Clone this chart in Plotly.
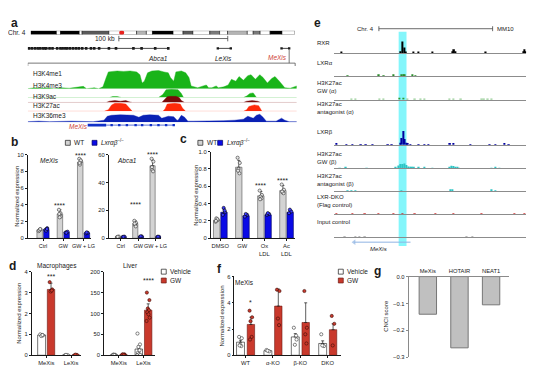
import plotly.graph_objects as go

W, H = 554, 375
# the page body keeps the browser's default 8 px margin, so the figure is offset by it
OX, OY = 8, 8
FW, FH = W - OX, H - OY
FONT = "Liberation Sans"
INK = "#1a1a1a"

# ======================= DATA =======================
# ---- panel a : chromosome 4 ideogram (Mb) ----
ideo_start = [0, 15.2, 17.6, 28.7, 30.4, 46.2, 62.6, 68.4, 72.0, 84.2, 90.1, 95.9,
              105.9, 111.7, 116.4, 128.1, 131.6, 135.7, 141.6, 148.6]
ideo_end = [15.2, 17.6, 28.7, 30.4, 46.2, 62.6, 68.4, 72.0, 84.2, 90.1, 95.9, 105.9,
            111.7, 116.4, 128.1, 131.6, 135.7, 141.6, 148.6, 156.2]
ideo_stain = ["gpos100", "gneg", "gpos100", "gneg", "gpos75", "gneg", "gpos33", "gneg",
              "gpos100", "gneg", "gpos75", "gneg", "gpos66", "gneg", "gpos33", "gneg",
              "gpos66", "gneg", "gpos100", "gneg"]
ideo_locus_mb = 53.8

# ---- panel a : genes (kb from window start) ----
scale_kb = [83.6, 183.6]
abca1_span = [0, 129]
abca1_exons = [1, 3.6, 6.4, 9, 11, 13.6, 15.5, 17, 20, 22.7, 27, 30, 32, 34.5, 36.4, 39,
               41.8, 44.5, 47, 50, 53.6, 58, 61, 65.5, 74.5, 81, 97, 104.5, 117, 129]
lexis_span = [174.5, 186.4]
mexis_span = [233, 240]
window_kb = 245.5
mexis_tx_thick = [55, 72]
mexis_tx_thin = [72, 135]
mexis_tx_exons = [77, 84, 91, 99, 105, 113, 120, 127, 134]

# ---- panel a : ChIP-seq tracks ----
k4me1_kb = [0, 6, 11, 18, 24, 31, 38, 45, 51, 54, 61, 65, 69, 72, 74, 82, 88, 94, 100, 103,
            105, 107, 110, 114, 120, 125, 129, 131, 134, 136, 141, 145, 148, 150, 153, 156,
            161, 164, 166, 169, 173, 175, 180, 184, 187, 191, 194, 198, 202, 205, 209, 213,
            216, 220, 224, 227, 231, 234, 236, 241, 244, 247]
k4me1_sig = [0, 1, 0.5, 1, 0, 1, 0.5, 1.5, 2.5, 0, 1, 0, 2, 12, 18, 19, 18.5, 19, 18, 15,
             6, 8, 17, 19, 19.5, 18, 17, 12, 8, 18, 19, 17, 12, 3, 2, 1, 3, 4, 1, 1,
             3, 1, 2, 4, 10, 8, 13, 9, 14, 15, 10, 15, 12, 6, 11, 13, 8, 4, 1, 0.5, 2, 3]
k4me3_kb = [0, 60, 75, 78, 82, 86, 120, 124, 127, 132, 138, 141, 143, 198, 201, 204, 207,
            210, 226, 228, 230, 247]
k4me3_sig = [0, 0, 0, 2, 2, 0, 0, 6, 15, 16, 15, 8, 0, 0, 3, 8, 9, 0, 0, 1, 0, 0]
k9ac_kb = [0, 72, 75, 80, 85, 90, 93, 96, 123, 125, 128, 131, 136, 139, 141, 144, 198, 201,
           206, 211, 214, 247]
k9ac_sig = [0, 0, 2, 3, 2, 3, 1, 0, 0, 3, 9, 10, 10, 8, 3, 0, 0, 2, 3, 2, 0, 0]
k27ac_kb = [0, 70, 74, 77, 80, 85, 90, 93, 96, 124, 126, 128, 135, 140, 142, 145, 198, 201,
            203, 208, 212, 215, 247]
k27ac_sig = [0, 0, 2, 8, 10, 10, 9, 4, 0, 0, 3, 9, 10, 9, 4, 0, 0, 2, 6, 8, 7, 0, 0]
k36me3_kb = [0, 10, 20, 40, 60, 70, 73, 77, 85, 92, 97, 102, 106, 112, 120, 123, 126, 129,
             134, 137, 138, 141, 144, 147, 152, 165, 180, 190, 198, 202, 204, 207, 210, 213,
             216, 219, 228, 231, 233, 236, 240, 247]
k36me3_sig = [0.5, 1, 0.5, 1, 0.5, 2, 6, 7, 7.5, 7, 7, 5, 7, 7.5, 7, 4, 5, 6, 5.5, 2,
              2, 7, 5, 1, 1, 1, 1.5, 2, 3, 6, 5, 4, 7, 8, 5, 1, 1, 3, 4, 2, 0.5, 0.5]
a_track_names = ["H3K4me1", "H3K4me3", "H3K9ac", "H3K27ac", "H3K36me3"]

# ---- panel b ----
b_groups = ["Ctrl", "GW", "GW + LG"]
b_mexis_wt = [1.0, 2.9, 9.1]
b_mexis_wt_err = [0.12, 0.5, 0.35]
b_mexis_ko = [1.05, 0.72, 0.62]
b_mexis_ko_err = [0.15, 0.08, 0.08]
b_mexis_wt_pts = [[0.85, 1.05, 0.95, 1.1], [3.4, 2.6, 2.5, 3.0, 2.9], [9.5, 9.2, 8.8, 9.3, 9.0]]
b_mexis_ko_pts = [[1.0, 1.2, 0.9, 1.1], [0.7, 0.78, 0.65], [0.58, 0.65, 0.7]]
b_abca1_wt = [1.0, 10.5, 52.0]
b_abca1_wt_err = [0.3, 2.0, 4.0]
b_abca1_ko = [1.0, 1.2, 1.0]
b_abca1_ko_err = [0.2, 0.3, 0.2]
b_abca1_wt_pts = [[0.8, 1.2, 1.0], [12.5, 11, 9.5, 8.5, 10.5], [57, 55, 49, 48, 51]]
b_abca1_ko_pts = [[0.9, 1.1, 1.0], [1.0, 1.3, 1.4], [0.9, 1.0, 1.1]]

# ---- panel c ----
c_groups = ["DMSO", "GW", "Ox<br>LDL", "Ac<br>LDL"]
c_wt = [0.21, 0.82, 0.49, 0.55]
c_wt_err = [0.02, 0.08, 0.05, 0.06]
c_ko = [0.30, 0.26, 0.27, 0.30]
c_ko_err = [0.04, 0.02, 0.01, 0.02]
c_wt_pts = [[0.19, 0.21, 0.23, 0.22, 0.20], [0.93, 0.87, 0.80, 0.75, 0.78],
            [0.55, 0.50, 0.48, 0.46, 0.45], [0.62, 0.56, 0.53, 0.52, 0.54]]
c_ko_pts = [[0.27, 0.30, 0.35, 0.32], [0.25, 0.27, 0.28], [0.27, 0.28, 0.29], [0.29, 0.31, 0.33]]

# ---- panel d ----
d_groups = ["MeXis", "LeXis"]
d_mac_veh = [0.97, 0.01]
d_mac_veh_err = [0.05, 0.005]
d_mac_gw = [3.15, 0.02]
d_mac_gw_err = [0.3, 0.005]
d_mac_veh_pts = [[1.0, 0.95, 0.92, 0.97], [0.0, 0.01, 0.02]]
d_mac_gw_pts = [[3.5, 3.15, 3.05, 3.1], [0.0, 0.02, 0.03]]
d_liv_veh = [1.0, 15.0]
d_liv_veh_err = [0.5, 7.0]
d_liv_gw = [1.5, 108.0]
d_liv_gw_err = [0.6, 15.0]
d_liv_veh_pts = [[0.5, 1.0, 1.5, 0.8, 1.2, 0.6], [52, 26, 20, 12, 6, 3, 1, 0]]
d_liv_gw_pts = [[1.0, 2.0, 1.5, 1.2, 2.2, 0.8], [150, 132, 112, 108, 103, 98, 90, 82]]

# ---- panel e : ChIP-seq signal (position units along window, signal) ----
e_names = ["RXR", "LXRα", "H3K27ac<br>GW (α)", "H3K27ac<br>antagonist (α)", "LXRβ",
           "H3K27ac<br>GW (β)", "H3K27ac<br>antagonist (β)", "LXR-DKO<br>(Flag control)",
           "Input control"]
e_pos = [
    [3.6, 34.5, 35.5, 36.5, 37.3, 41.2, 43.8, 51, 61.8, 62.4, 63.0, 78.9, 98.4, 99.0, 99.6],
    [7, 23.2, 25.8, 30.9, 35.1, 35.9, 36.7, 40.7, 42.3],
    [9, 11, 23.5, 25.5, 34, 36, 38, 42, 45, 47, 60, 62, 66, 76.5, 78, 80, 82],
    [],
    [1, 6.2, 9.3, 13.9, 16.5, 20, 28, 30, 34.3, 35.1, 35.9, 36.7, 37.5, 38.3, 39.5, 44, 47,
     49, 60.3, 62, 71, 81, 84, 88.7, 91],
    [3, 6, 17, 32, 33.5, 34.5, 35.5, 36.5, 37.5, 38.5, 39.5, 40.5, 41.5, 44, 47, 51, 60, 61,
     62, 63, 64, 65, 82, 84, 86],
    [7, 9, 11, 35, 60.5, 61.5, 82, 84],
    [1, 9.3, 16, 23, 30.9, 35.6, 42, 52.6, 62, 76.8, 93.8, 99],
    [5.5, 11, 13, 16, 69, 72],
]
e_sig = [
    [0.8, 2, 12, 6, 1.5, 0.8, 0.8, 0.8, 2, 4, 2, 0.8, 2, 4, 2],
    [0.5, 0.8, 0.6, 0.8, 1.2, 1.8, 0.8, 0.8, 0.6],
    [0.6, 0.6, 0.6, 0.6, 0.8, 0.8, 0.6, 0.6, 0.6, 0.6, 0.6, 0.6, 0.6, 0.6, 0.6, 0.6, 0.6],
    [],
    [0.8, 0.6, 0.6, 0.6, 0.6, 0.6, 0.6, 0.6, 2, 7, 14, 6, 2, 0.8, 0.6, 0.6, 0.6,
     0.6, 0.8, 0.8, 0.6, 0.6, 0.6, 0.8, 0.6],
    [0.6, 0.8, 0.6, 1, 3, 4.5, 4.5, 5, 3.5, 2, 1.5, 1, 0.8, 0.8, 0.8, 0.6, 1.5, 2.8,
     2.5, 1.5, 1, 0.7, 0.6, 0.8, 0.6],
    [0.6, 0.6, 0.6, 0.6, 1.2, 1.2, 0.8, 0.6],
    [0.6, 0.6, 0.6, 0.5, 0.6, 0.6, 0.6, 0.6, 0.6, 0.6, 0.6, 0.5],
    [0.6, 0.6, 0.6, 0.6, 0.6, 0.6],
]
e_highlight = [33.5, 37.6]
e_mexis_span = [10.3, 39.7]

# ---- panel f ----
f_groups = ["WT", "α-KO", "β-KO", "DKO"]
f_veh = [1.0, 0.35, 1.4, 0.9]
f_veh_err = [0.15, 0.05, 0.25, 0.2]
f_gw = [2.35, 3.75, 2.5, 1.95]
f_gw_err = [0.55, 1.3, 1.5, 0.45]
f_veh_pts = [[1.4, 1.3, 0.8, 0.7, 0.75], [0.4, 0.3, 0.35], [2.1, 1.2, 0.8, 1.5], [1.6, 0.7, 0.75]]
f_gw_pts = [[3.4, 2.9, 2.6, 1.4, 1.2], [5.0, 4.9, 2.8, 2.3], [4.9, 2.1, 1.6, 0.9], [3.0, 2.4, 0.75]]

# ---- panel g ----
g_cats = ["MeXis", "HOTAIR", "NEAT1"]
g_cnci = [-0.14, -0.265, -0.105]

# ======================= STYLE / LAYOUT =======================
STAIN = {"gneg": "#ffffff", "gpos33": "#b4b4b4", "gpos66": "#7a7a7a",
         "gpos75": "#5a5a5a", "gpos100": "#000000"}
GRAY_BAR, BLUE_BAR = "#d3d3d3", "#0a0ae6"
WHITE_BAR, RED_BAR = "#ffffff", "#c9392c"
A_COLORS = ["#19b419", "#19b419", "#7a0a0a", "#ff2a0a", "#0a20b4"]
E_COLORS = ["#000000", "#2a8a2a", "#2f9a2f", "#2f9a2f", "#0000a0", "#2cc4c4", "#2cc4c4",
            "#d03030", "#707070"]
JIT = [-0.18, 0.16, -0.05, 0.1, -0.12, 0.04, 0.2, -0.22]
TICK = 5.8

fig = go.Figure()
AX, ANN, SHP = {}, [], []
cnt = [0]


def P(x):
    return (x - OX) / FW


def Q(y):
    return 1 - (y - OY) / FH


def new_axes(x0, x1, y0, y1, xr, yr, xo=None, yo=None):
    cnt[0] += 1
    s = "" if cnt[0] == 1 else str(cnt[0])
    xa = dict(domain=[P(x0), P(x1)], range=xr, anchor="y" + s, visible=False, fixedrange=True)
    ya = dict(domain=[Q(y1), Q(y0)], range=yr, anchor="x" + s, visible=False, fixedrange=True)
    if xo:
        xa.update(xo)
    if yo:
        ya.update(yo)
    AX["xaxis" + s] = xa
    AX["yaxis" + s] = ya
    return "x" + s, "y" + s


def text(x, y, t, size=6.5, xa="center", ya="middle", color=INK, angle=0):
    ANN.append(dict(x=P(x), y=Q(y), xref="paper", yref="paper", text=t, showarrow=False,
                    xanchor=xa, yanchor=ya, textangle=angle, align=xa,
                    font=dict(family=FONT, size=size, color=color)))


def swatch(x, y, fill, edge):
    SHP.append(dict(type="rect", xref="paper", yref="paper", x0=P(x), x1=P(x + 5),
                    y0=Q(y + 2.5), y1=Q(y - 2.5), fillcolor=fill, line=dict(color=edge, width=0.7)))


def axstyle(tv, tt, lc=INK, side=None, ticks="outside", size=TICK):
    d = dict(visible=True, showline=True, linecolor=lc, linewidth=0.8, ticks=ticks, ticklen=2,
             tickwidth=0.8, tickcolor=lc, tickvals=tv, showgrid=False, tickangle=0,
             zeroline=False, tickfont=dict(family=FONT, size=size, color=INK))
    if tt is not None:
        d["ticktext"] = tt
    if side:
        d["side"] = side
    return d


def add_series(xa, ya, means, errs, pts, center, width, fill, edge, ptfill, ptedge):
    n = len(means)
    fig.add_trace(go.Bar(x=list(range(n)), y=means, offset=center - width / 2, width=width,
                         marker=dict(color=fill, line=dict(color=edge, width=0.6)),
                         error_y=dict(type="data", array=errs, arrayminus=[0] * n,
                                      symmetric=False, color=INK, thickness=0.7, width=1.5),
                         xaxis=xa, yaxis=ya))
    xs, ys = [], []
    for i, grp in enumerate(pts):
        for j, v in enumerate(grp):
            xs.append(i + center + JIT[j % len(JIT)] * width)
            ys.append(v)
    fig.add_trace(go.Scatter(x=xs, y=ys, mode="markers",
                             marker=dict(symbol="circle", size=3.2, color=ptfill,
                                         line=dict(color=ptedge, width=0.6)),
                             xaxis=xa, yaxis=ya))


def stars(xa, ya, x, y, t):
    ANN.append(dict(x=x, y=y, xref=xa, yref=ya, text=t, showarrow=False, yanchor="middle",
                    font=dict(family=FONT, size=7, color=INK)))


# ---------------- panel a ----------------
text(15, 20, "<b>a</b>", size=12)
text(28, 30, "Chr. 4", xa="right")
xa, ya = new_axes(31, 298, 28, 32, [0, ideo_end[-1]], [-0.5, 0.5])
fig.add_trace(go.Bar(orientation="h", y=[0] * len(ideo_start),
                     x=[e - s for s, e in zip(ideo_start, ideo_end)], base=ideo_start, width=1,
                     marker=dict(color=[STAIN[s] for s in ideo_stain],
                                 line=dict(color="#000", width=0.5)), xaxis=xa, yaxis=ya))
fig.add_trace(go.Scatter(x=[ideo_locus_mb], y=[0], mode="markers",
                         marker=dict(symbol="circle", size=5, color="#e8211d"), xaxis=xa, yaxis=ya))

gx, gy = new_axes(28, 300, 33, 64, [0, 247], [31, 0])
fig.add_trace(go.Scatter(x=scale_kb, y=[3, 3], mode="lines+markers",
                         line=dict(color="#444", width=0.8),
                         marker=dict(symbol="line-ns", size=4, line=dict(color="#444", width=0.8)),
                         xaxis=gx, yaxis=gy))
text(118, 36, "100 kb", xa="right")
fig.add_trace(go.Scatter(x=abca1_span, y=[13, 13], mode="lines", line=dict(color=INK, width=0.8),
                         xaxis=gx, yaxis=gy))
fig.add_trace(go.Scatter(x=abca1_exons, y=[13] * len(abca1_exons), mode="markers",
                         marker=dict(symbol="square", size=2.6, color=INK, line=dict(width=0)),
                         xaxis=gx, yaxis=gy))
for span in (lexis_span, mexis_span):
    fig.add_trace(go.Scatter(x=span, y=[13, 13], mode="lines+markers",
                             line=dict(color=INK, width=0.8),
                             marker=dict(symbol="square", size=2.4, color=INK, line=dict(width=0)),
                             xaxis=gx, yaxis=gy))
fig.add_trace(go.Scatter(x=[0, 0, window_kb, window_kb], y=[31, 28, 28, 31], mode="lines",
                         line=dict(color="#555", width=0.8), xaxis=gx, yaxis=gy))
fig.add_trace(go.Scatter(x=[mexis_span[1], mexis_span[1]], y=[14, 28], mode="lines",
                         line=dict(color="#555", width=0.8), xaxis=gx, yaxis=gy))
text(160, 56, "<i>Abca1</i>")
text(226, 56, "<i>LeXis</i>")
text(280, 55, "<i>MeXis</i>", color="#d0463c")

a_series = [(k4me1_kb, k4me1_sig, 20), (k4me3_kb, k4me3_sig, 17), (k9ac_kb, k9ac_sig, 11),
            (k27ac_kb, k27ac_sig, 11), (k36me3_kb, k36me3_sig, 9)]
a_base = [87, 96, 101, 110, 121]
a_height = [19, 9, 7, 9, 9]
a_lab_y = [72, 84, 95, 104, 114]
for (kb, sig, top), base, hh, ly, name, col in zip(a_series, a_base, a_height, a_lab_y,
                                                   a_track_names, A_COLORS):
    tx, ty = new_axes(28, 300, base - hh, base, [0, 247], [0, top])
    fig.add_trace(go.Scatter(x=kb, y=sig, mode="lines", fill="tozeroy", fillcolor=col,
                             line=dict(color=col, width=0.4), xaxis=tx, yaxis=ty))
    text(31, ly, name, xa="left")
mx, my = new_axes(28, 300, 121.5, 126.5, [0, 247], [-1, 1])
fig.add_trace(go.Scatter(x=mexis_tx_thin, y=[0, 0], mode="lines", line=dict(color="#1030c8", width=0.7),
                         xaxis=mx, yaxis=my))
fig.add_trace(go.Scatter(x=mexis_tx_thick, y=[0, 0], mode="lines", line=dict(color="#1030c8", width=2.6),
                         xaxis=mx, yaxis=my))
fig.add_trace(go.Scatter(x=mexis_tx_exons, y=[0] * len(mexis_tx_exons), mode="markers",
                         marker=dict(symbol="square", size=2.4, color="#1030c8"), xaxis=mx, yaxis=my))
text(68, 125, "<i>MeXis</i>", xa="left", color="#d0463c")

# ---------------- panel b ----------------
text(15, 141, "<b>b</b>", size=12)
swatch(66, 142, GRAY_BAR, INK)
text(73, 142, "WT", xa="left")
swatch(93, 142, BLUE_BAR, "#000060")
text(100, 142, "<i>Lxrαβ</i><sup>−/−</sup>", xa="left")
text(17, 196, "Normalized expression", size=6, angle=-90)

xa, ya = new_axes(28, 92, 154, 239, [-0.75, 2.37], [0, 10],
                  xo=axstyle([0, 1, 2], b_groups, size=5.5), yo=axstyle([0, 2, 4, 6, 8, 10], None))
add_series(xa, ya, b_mexis_wt, b_mexis_wt_err, b_mexis_wt_pts, -0.165, 0.27, GRAY_BAR, "#555", "#e8e8e8", "#333")
add_series(xa, ya, b_mexis_ko, b_mexis_ko_err, b_mexis_ko_pts, 0.165, 0.27, BLUE_BAR, "#000060", "#3a3aff", "#000")
stars(xa, ya, 0.835, 3.9, "****")
stars(xa, ya, 1.835, 9.9, "****")
text(50, 160, "<i>MeXis</i>")

xa, ya = new_axes(110, 163, 154, 239, [-0.69, 2.34], [0, 60],
                  xo=axstyle([0, 1, 2], b_groups, size=5.5), yo=axstyle([0, 20, 40, 60], None))
add_series(xa, ya, b_abca1_wt, b_abca1_wt_err, b_abca1_wt_pts, -0.165, 0.3, GRAY_BAR, "#555", "#e8e8e8", "#333")
add_series(xa, ya, b_abca1_ko, b_abca1_ko_err, b_abca1_ko_pts, 0.165, 0.3, BLUE_BAR, "#000060", "#3a3aff", "#000")
stars(xa, ya, 0.835, 24, "****")
stars(xa, ya, 1.835, 60, "****")
text(128, 160, "<i>Abca1</i>")

# ---------------- panel c ----------------
text(185, 138, "<b>c</b>", size=12)
swatch(200, 142, GRAY_BAR, INK)
text(207, 142, "WT", xa="left")
swatch(220, 142, BLUE_BAR, "#000060")
text(227, 142, "<i>Lxrαβ</i><sup>−/−</sup>", xa="left")
text(198, 195, "Normalized expression", size=6, angle=-90)
xa, ya = new_axes(213, 298, 151, 239, [-0.43, 3.38], [0, 1.0],
                  xo=axstyle([0, 1, 2, 3], c_groups),
                  yo=axstyle([0, 0.2, 0.4, 0.6, 0.8, 1.0], ["0", "0.2", "0.4", "0.6", "0.8", "1.0"]))
add_series(xa, ya, c_wt, c_wt_err, c_wt_pts, -0.16, 0.29, GRAY_BAR, "#555", "#e8e8e8", "#333")
add_series(xa, ya, c_ko, c_ko_err, c_ko_pts, 0.17, 0.29, BLUE_BAR, "#000060", "#3a3aff", "#000")
stars(xa, ya, 1.84, 0.61, "****")
stars(xa, ya, 2.84, 0.67, "****")

# ---------------- panel d ----------------
text(13, 267, "<b>d</b>", size=12)
text(19, 315, "Normalized expression", size=6, angle=-90)
xa, ya = new_axes(32, 82, 273, 358, [-0.59, 1.41], [0, 4],
                  xo=axstyle([0, 1], d_groups), yo=axstyle([0, 1, 2, 3, 4], None))
add_series(xa, ya, d_mac_veh, d_mac_veh_err, d_mac_veh_pts, -0.19, 0.32, WHITE_BAR, INK, "#ffffff", "#333")
add_series(xa, ya, d_mac_gw, d_mac_gw_err, d_mac_gw_pts, 0.19, 0.3, RED_BAR, "#6b1a12", "#c9392c", "#3a0a05")
stars(xa, ya, 0.19, 3.75, "***")
text(58, 267, "Macrophages")

xa, ya = new_axes(105, 157, 273, 358, [-0.6, 1.48], [0, 200],
                  xo=axstyle([0, 1], d_groups), yo=axstyle([0, 50, 100, 150, 200], None))
add_series(xa, ya, d_liv_veh, d_liv_veh_err, d_liv_veh_pts, -0.19, 0.3, WHITE_BAR, INK, "#ffffff", "#333")
add_series(xa, ya, d_liv_gw, d_liv_gw_err, d_liv_gw_pts, 0.19, 0.3, RED_BAR, "#6b1a12", "#c9392c", "#3a0a05")
stars(xa, ya, 1.19, 180, "****")
text(132, 267, "Liver")
swatch(163, 273, WHITE_BAR, INK)
text(170, 273, "Vehicle", xa="left")
swatch(163, 282, RED_BAR, "#6b1a12")
text(170, 282, "GW", xa="left")

# ---------------- panel e ----------------
text(321, 20, "<b>e</b>", size=12)
text(380, 26, "Chr. 4", xa="right", size=6)
SHP.append(dict(type="line", xref="paper", yref="paper", x0=P(383), x1=P(498), y0=Q(26), y1=Q(26),
                line=dict(color="#444", width=0.8)))
for xx in (383, 498):
    SHP.append(dict(type="line", xref="paper", yref="paper", x0=P(xx), x1=P(xx), y0=Q(23.5), y1=Q(28.5),
                    line=dict(color="#444", width=0.8)))
text(500, 26, "MM10", xa="left", size=6)
e_base = [51, 74, 98, 121, 144, 168, 191, 214, 238]
e_lab_y = [41, 61, 85, 106.5, 131, 157.5, 180, 201.5, 222]
first_e = None
for i, (pos, sig) in enumerate(zip(e_pos, e_sig)):
    tx, ty = new_axes(338, 532, e_base[i] - 16, e_base[i], [0, 100], [0, 16],
                      xo=dict(visible=True, showline=True, linecolor="#8c8c8c", linewidth=1.2,
                              showticklabels=False, ticks="", showgrid=False, zeroline=False))
    if first_e is None:
        first_e = tx
    if pos:
        fig.add_trace(go.Bar(x=pos, y=sig, width=0.8, marker=dict(color=E_COLORS[i], line=dict(width=0)),
                             xaxis=tx, yaxis=ty))
    text(318, e_lab_y[i], e_names[i], xa="left", size=6)
SHP.append(dict(type="rect", xref=first_e, yref="paper", x0=e_highlight[0], x1=e_highlight[1],
                y0=Q(247), y1=Q(29), fillcolor="#84f6fb", line=dict(width=0), layer="below"))
# MeXis direction arrow (minus strand) in panel e
ax_, ay_ = new_axes(338, 532, 240, 246, [0, 100], [-1, 1])
fig.add_trace(go.Scatter(x=e_mexis_span, y=[0, 0], mode="lines+markers",
                         line=dict(color="#8fb4e3", width=1),
                         marker=dict(symbol=["triangle-left", "line-ns"], size=[5, 0.1],
                                     color="#8fb4e3", line=dict(width=0)),
                         xaxis=ax_, yaxis=ay_))
text(383, 250, "<i>MeXis</i>", size=6)

# ---------------- panel f ----------------
text(222, 270, "<b>f</b>", size=12)
text(224, 318, "Normalized expression", size=6, angle=-90)
xa, ya = new_axes(237, 345, 278, 358, [-0.4, 3.5], [0, 6],
                  xo=axstyle([0, 1, 2, 3], f_groups), yo=axstyle([0, 2, 4, 6], None))
add_series(xa, ya, f_veh, f_veh_err, f_veh_pts, -0.18, 0.29, WHITE_BAR, INK, "#ffffff", "#333")
add_series(xa, ya, f_gw, f_gw_err, f_gw_pts, 0.2, 0.27, RED_BAR, "#6b1a12", "#c9392c", "#3a0a05")
stars(xa, ya, 0.2, 4.0, "*")
text(247, 284, "MeXis")
swatch(342, 273, WHITE_BAR, INK)
text(349, 273, "Vehicle", xa="left")
swatch(342, 282, RED_BAR, "#6b1a12")
text(349, 282, "GW", xa="left")

# ---------------- panel g ----------------
text(382, 272, "<b>g</b>", size=12)
text(390, 318, "CNCI score", size=6, angle=-90)
xa, ya = new_axes(413, 515, 278, 360, [-0.61, 2.58], [-0.3, 0],
                  xo=axstyle([0, 1, 2], g_cats, lc="#8a8a8a", side="top", ticks=""),
                  yo=axstyle([0, -0.1, -0.2, -0.3], ["0.0", "−0.1", "−0.2", "−0.3"], lc="#8a8a8a"))
fig.add_trace(go.Bar(x=[0, 1, 2], y=g_cnci, width=0.55,
                     marker=dict(color="#c0c0c0", line=dict(color="#767676", width=1)),
                     xaxis=xa, yaxis=ya))

fig.update_layout(width=FW, height=FH, margin=dict(l=0, r=0, t=0, b=0), autosize=False,
                  paper_bgcolor="white", plot_bgcolor="rgba(0,0,0,0)", showlegend=False,
                  barmode="overlay", hovermode=False, font=dict(family=FONT, size=6.5, color=INK),
                  annotations=ANN, shapes=SHP, **AX)
fig.write_html("out.html")
